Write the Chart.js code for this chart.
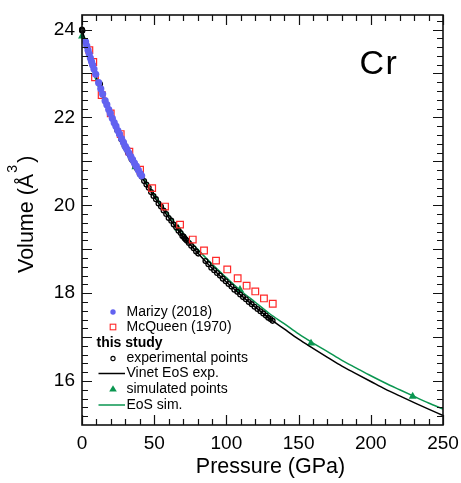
<!DOCTYPE html>
<html><head><meta charset="utf-8">
<style>html,body{margin:0;padding:0;background:#fff;}canvas{display:block}</style>
<script src="https://cdn.jsdelivr.net/npm/chart.js"></script>
</head><body>
<canvas id="c" width="461" height="483"></canvas>
<script>
// ---- data ----
const xTickValues = [0, 50, 100, 150, 200, 250];
const yTickValues = [16, 18, 20, 22, 24];

const marizyP = [2.5, 3.3, 4.2, 5.0, 5.8, 6.6, 7.4, 8.3, 9.5, 11.5, 13.0, 14.3, 16.0, 17.2, 18.5, 19.6, 21.0, 22.3, 23.5, 24.8, 26.0, 27.4, 28.7, 30.0, 31.2, 32.5, 33.8, 35.0, 36.3, 37.6, 39.0, 40.3, 41.3];
const marizyV = [23.72, 23.63, 23.53, 23.44, 23.35, 23.27, 23.19, 23.10, 22.98, 22.79, 22.65, 22.53, 22.38, 22.29, 22.18, 22.09, 21.98, 21.88, 21.80, 21.70, 21.62, 21.52, 21.43, 21.34, 21.27, 21.19, 21.11, 21.04, 20.96, 20.89, 20.80, 20.72, 20.67];

const mcqueenP = [5.1, 7.8, 9.0, 13.6, 19.9, 26.8, 32.8, 40.2, 48.6, 57.5, 67.9, 76.7, 84.5, 92.8, 100.6, 107.8, 114.0, 120.0, 126.0, 132.1];
const mcqueenV = [23.53, 23.26, 22.91, 22.51, 22.09, 21.62, 21.22, 20.81, 20.39, 19.97, 19.56, 19.22, 18.97, 18.74, 18.54, 18.34, 18.17, 18.04, 17.88, 17.76];

const expP = [0, 0, 0.3, 12.5, 24.5, 26.0, 27.2, 28.5, 29.5, 30.5, 31.8, 33.0, 34.3, 35.5, 37.0, 38.4, 40.0, 41.5, 43.0, 44.6, 46.2, 47.8, 49.5, 51.2, 53.0, 54.7, 56.5, 58.3, 60.0, 61.8, 63.5, 65.2, 66.8, 68.3, 69.5, 70.3, 71.0, 71.8, 72.7, 74.0, 75.6, 77.3, 79.0, 80.5, 85.5, 87.5, 89.5, 91.5, 93.5, 95.5, 97.5, 99.5, 101.5, 103.5, 105.5, 107.5, 109.5, 111.5, 113.5, 115.5, 117.5, 119.5, 121.5, 123.5, 125.5, 127.3, 129.0, 130.5, 132.0];
const expV = [24.00, 23.98, 23.97, 22.76, 21.70, 21.61, 21.50, 21.44, 21.35, 21.30, 21.20, 21.15, 21.05, 21.00, 20.89, 20.82, 20.71, 20.65, 20.55, 20.47, 20.40, 20.30, 20.21, 20.14, 20.04, 19.97, 19.88, 19.80, 19.71, 19.65, 19.56, 19.50, 19.42, 19.37, 19.30, 19.29, 19.25, 19.22, 19.19, 19.14, 19.08, 19.02, 18.95, 18.90, 18.73, 18.66, 18.58, 18.52, 18.46, 18.40, 18.33, 18.27, 18.21, 18.15, 18.08, 18.03, 17.97, 17.91, 17.86, 17.80, 17.75, 17.69, 17.64, 17.59, 17.54, 17.49, 17.44, 17.41, 17.37];

const curveP = [0, 5, 10, 15, 20, 25, 30, 40, 50, 60, 70, 80, 90, 100, 110, 120, 130, 140, 150, 160, 170, 180, 190, 200, 210, 220, 230, 240, 250];
const vinetV = [24.00, 23.42, 22.913, 22.453, 22.042, 21.672, 21.325, 20.718, 20.192, 19.722, 19.293, 18.922, 18.571, 18.253, 17.956, 17.683, 17.422, 17.186, 16.952, 16.744, 16.541, 16.341, 16.165, 15.990, 15.816, 15.662, 15.510, 15.360, 15.215];
const eosSimV = [23.85, 23.30, 22.823, 22.393, 22.012, 21.662, 21.335, 20.748, 20.242, 19.782, 19.363, 19.002, 18.661, 18.353, 18.056, 17.793, 17.532, 17.306, 17.072, 16.864, 16.671, 16.471, 16.295, 16.120, 15.956, 15.802, 15.650, 15.500, 15.365];

const simP = [0, 37.0, 66.7, 109.4, 158.6, 229.0];
const simV = [23.85, 20.87, 19.47, 18.08, 16.86, 15.65];

const legendLabels = ['Marizy (2018)', 'McQueen (1970)', 'this study', 'experimental points', 'Vinet EoS exp.', 'simulated points', 'EoS sim.'];

// ---- styles ----
const BLUE = 'rgb(98,98,240)';
const RED = 'rgb(255,40,40)';
const GREEN = 'rgb(10,150,80)';
const FONT = '"Liberation Sans", Arial, Helvetica, sans-serif';

const pts = (xs, ys) => xs.map((x, i) => ({ x: x, y: ys[i] }));

const decor = {
  id: 'decor',
  afterDraw(chart) {
    const { ctx, chartArea: a, scales: { x, y } } = chart;
    ctx.save();
    // ticks (inward)
    ctx.strokeStyle = '#111';
    ctx.lineWidth = 1.2;
    ctx.beginPath();
    for (let v = 0; v <= 250; v += 10) {
      const px = Math.round(x.getPixelForValue(v)) + 0.5;
      const L = v % 50 === 0 ? 10 : 6;
      ctx.moveTo(px, a.bottom); ctx.lineTo(px, a.bottom - L);
      ctx.moveTo(px, a.top); ctx.lineTo(px, a.top + L);
    }
    for (let k = 76; k <= 121; k++) {
      const py = Math.round(y.getPixelForValue(k / 5)) + 0.5;
      const L = k % 5 === 0 ? 10 : 6;
      ctx.moveTo(a.left, py); ctx.lineTo(a.left + L, py);
      ctx.moveTo(a.right, py); ctx.lineTo(a.right - L, py);
    }
    ctx.stroke();
    ctx.lineWidth = 1.6;
    ctx.strokeRect(a.left, a.top, a.right - a.left, a.bottom - a.top);

    // axis titles
    ctx.fillStyle = '#000';
    ctx.font = '21.5px ' + FONT;
    ctx.textAlign = 'center';
    ctx.textBaseline = 'alphabetic';
    ctx.fillText('Pressure (GPa)', 270.5, 473);

    ctx.save();
    ctx.translate(33, 273);
    ctx.rotate(-Math.PI / 2);
    ctx.textAlign = 'left';
    ctx.font = '21.5px ' + FONT;
    const part = 'Volume (Å';
    ctx.fillText(part, 0, 0);
    const w = ctx.measureText(part).width;
    ctx.font = '14px ' + FONT;
    ctx.fillText('3', w + 1, -16);
    ctx.font = '21.5px ' + FONT;
    ctx.fillText(')', w + 11, 0);
    ctx.restore();

    // element label
    ctx.font = '34px ' + FONT;
    ctx.textAlign = 'left';
    if ('letterSpacing' in ctx) ctx.letterSpacing = '1.5px';
    ctx.fillText('Cr', 359.5, 74);
    if ('letterSpacing' in ctx) ctx.letterSpacing = '0px';

    // legend
    const rows = [312, 327, 343, 358.5, 373.5, 389, 405];
    const sx = 113, tx = 126.5;
    ctx.textBaseline = 'middle';
    ctx.font = '14px ' + FONT;
    ctx.fillStyle = BLUE;
    ctx.beginPath(); ctx.arc(sx, rows[0], 2.7, 0, Math.PI * 2); ctx.fill();
    ctx.strokeStyle = RED; ctx.lineWidth = 1.1;
    ctx.strokeRect(sx - 2.8, rows[1] - 2.8, 5.6, 5.6);
    ctx.strokeStyle = '#000'; ctx.lineWidth = 1.1;
    ctx.beginPath(); ctx.arc(sx, rows[3], 2.1, 0, Math.PI * 2); ctx.stroke();
    ctx.lineWidth = 1.5;
    ctx.beginPath(); ctx.moveTo(98.5, rows[4]); ctx.lineTo(125, rows[4]); ctx.stroke();
    ctx.fillStyle = GREEN;
    ctx.beginPath();
    ctx.moveTo(sx, rows[5] - 3.8); ctx.lineTo(sx + 3.8, rows[5] + 2.6); ctx.lineTo(sx - 3.8, rows[5] + 2.6);
    ctx.closePath(); ctx.fill();
    ctx.strokeStyle = GREEN;
    ctx.beginPath(); ctx.moveTo(98.5, rows[6]); ctx.lineTo(125, rows[6]); ctx.stroke();

    ctx.fillStyle = '#000';
    ctx.textAlign = 'left';
    legendLabels.forEach((t, i) => {
      if (i === 2) {
        ctx.font = 'bold 14px ' + FONT;
        ctx.fillText(t, 96.5, rows[i]);
      } else {
        ctx.font = '14px ' + FONT;
        ctx.fillText(t, tx, rows[i]);
      }
    });
    ctx.restore();
  }
};

new Chart(document.getElementById('c'), {
  type: 'scatter',
  data: {
    datasets: [
      { label: 'Marizy (2018)', data: pts(marizyP, marizyV), pointStyle: 'circle', pointRadius: 3.6, backgroundColor: BLUE, borderWidth: 0, clip: false },
      { label: 'McQueen (1970)', data: pts(mcqueenP, mcqueenV), pointStyle: 'rect', pointRadius: 4.7, backgroundColor: 'rgba(0,0,0,0)', borderColor: RED, borderWidth: 1.2, clip: false },
      { label: 'experimental points', data: pts(expP, expV), pointStyle: 'circle', pointRadius: 2.4, backgroundColor: 'rgba(0,0,0,0)', borderColor: '#000', borderWidth: 1.3, clip: false },
      { label: 'Vinet EoS exp.', data: pts(curveP, vinetV), showLine: true, pointRadius: 0, borderColor: '#000', borderWidth: 1.5, cubicInterpolationMode: 'monotone', clip: false },
      { label: 'simulated points', data: pts(simP, simV), pointStyle: 'triangle', pointRadius: 4.6, backgroundColor: GREEN, borderWidth: 0, clip: false },
      { label: 'EoS sim.', data: pts(curveP, eosSimV), showLine: true, pointRadius: 0, borderColor: GREEN, borderWidth: 1.5, cubicInterpolationMode: 'monotone', clip: false }
    ]
  },
  options: {
    responsive: false,
    animation: false,
    devicePixelRatio: 1,
    layout: { padding: { top: 15, right: 18, left: 0, bottom: 0 } },
    plugins: { legend: { display: false }, tooltip: { enabled: false } },
    scales: {
      x: {
        type: 'linear', position: 'bottom', min: 0, max: 250,
        afterBuildTicks: s => { s.ticks = xTickValues.map(v => ({ value: v })); },
        afterFit: s => { s.height = 58; s.paddingLeft = 0; s.paddingRight = 0; },
        grid: { display: false, drawTicks: false },
        border: { display: false },
        ticks: { color: '#000', padding: 7, font: { family: FONT, size: 19 }, maxRotation: 0 }
      },
      y: {
        type: 'linear', position: 'left', min: 15, max: 24.33,
        afterBuildTicks: s => { s.ticks = yTickValues.map(v => ({ value: v })); },
        afterFit: s => { s.width = 82; s.paddingTop = 0; s.paddingBottom = 0; },
        grid: { display: false, drawTicks: false },
        border: { display: false },
        ticks: { color: '#000', padding: 7, font: { family: FONT, size: 19 } }
      }
    }
  },
  plugins: [decor]
});
</script>
</body></html>
